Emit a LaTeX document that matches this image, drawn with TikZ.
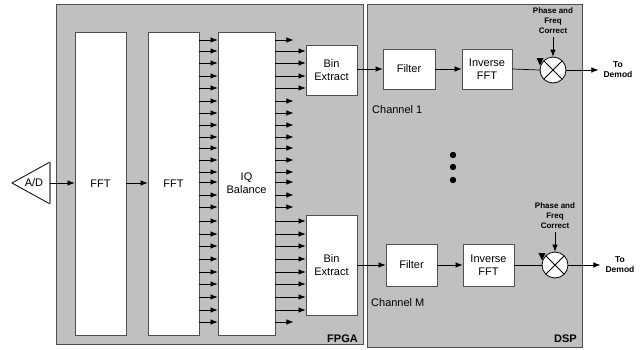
\documentclass[tikz,border=0pt]{standalone}
\usepackage{fontspec}
\setmainfont{Liberation Sans}
\usetikzlibrary{arrows.meta,calc}
\definecolor{panel}{RGB}{192,192,192}
\definecolor{edge}{RGB}{80,80,80}
\tikzset{
  panelbox/.style={draw=edge,fill=panel,line width=0.9pt},
  wbox/.style={draw=edge,fill=white,line width=0.8pt,inner sep=0pt,align=center,font=\fontsize{11}{13}\selectfont},
  arr/.style={-{Latex[length=7pt,width=5.5pt]},line width=0.7pt,black},
  small/.style={font=\fontsize{8}{10}\selectfont\bfseries,align=center,inner sep=0pt},
  lbl/.style={font=\fontsize{11}{13}\selectfont,inner sep=0pt},
  blbl/.style={font=\fontsize{11}{13}\selectfont\bfseries,inner sep=0pt},
  mult/.style={circle,draw=black,fill=white,line width=0.8pt,minimum size=26pt,inner sep=0pt,
    path picture={\draw[line width=0.8pt] (path picture bounding box.north west) -- (path picture bounding box.south east)
      (path picture bounding box.north east) -- (path picture bounding box.south west);}},
}
\begin{document}
\begin{tikzpicture}[x=1pt,y=-1pt]
\useasboundingbox (0,0) rectangle (641,349);
% panels
\node[panelbox,minimum width=307pt,minimum height=340pt,inner sep=0pt,anchor=north west] (fpga) at (56,4) {};
\node[panelbox,minimum width=215pt,minimum height=343pt,inner sep=0pt,anchor=north west] (dsp) at (367,4) {};
\node[blbl,anchor=south east] (fpgalbl) at (358,343) {FPGA};
\node[blbl,anchor=south east] (dsplbl) at (577,343) {DSP};
% A/D
\draw[line width=0.8pt,draw=black] (50,162) -- (12,183) -- (50,204);
\draw[line width=1.2pt,draw=gray] (50,162) -- (50,204);
\coordinate (adout) at (50,183);
\node[lbl] (ad) at (34,183) {A/D};
% big boxes
\node[wbox,minimum width=51pt,minimum height=303pt] (fft1) at (100.5,183.5) {FFT};
\node[wbox,minimum width=51pt,minimum height=303pt] (fft2) at (173.5,183.5) {FFT};
\node[wbox,minimum width=57pt,minimum height=303pt] (iq) at (246.5,183.5) {IQ\\Balance};
\draw[arr] (adout) -- (fft1.west |- adout);
\draw[arr] (fft1.east |- adout) -- (fft2.west |- adout);
% bin extract
\node[wbox,minimum width=51pt,minimum height=50pt] (bin1) at (331.5,70) {Bin\\Extract};
\node[wbox,minimum width=51pt,minimum height=100pt] (bin2) at (331.5,265) {Bin\\Extract};
% FFT2 -> IQ arrows
\foreach \y in {40,51,63,76,88,101,113,125,137,148,160,172,182,195,207,221,234,246,259,272,284,297,310,322}{
  \draw[arr] (fft2.east |- 0,\y) -- (iq.west |- 0,\y);
}
% IQ -> stubs
\foreach \y in {40,101,113,125,137,148,160,172,182,195,207,322}{
  \draw[arr] (iq.east |- 0,\y) -- ++(18,0);
}
\foreach \y in {51,63,76,88}{
  \draw[arr] (iq.east |- 0,\y) -- (bin1.west |- 0,\y);
}
\foreach \y in {221,234,246,259,272,284,297,310}{
  \draw[arr] (iq.east |- 0,\y) -- (bin2.west |- 0,\y);
}
% channel 1
\node[wbox,minimum width=52pt,minimum height=40pt] (filt1) at (409,69) {Filter};
\node[wbox,minimum width=50pt,minimum height=40pt] (ifft1) at (487,69) {Inverse\\FFT};
\node[mult] (m1) at (553,70) {};
\node[small] (ph1) at (553,21) {Phase and\\Freq\\Correct};
\node[small,font=\fontsize{8.5}{10}\selectfont\bfseries] (dm1) at (618,70) {To\\Demod};
\draw[arr] (bin1.east |- filt1) -- (filt1.west);
\draw[arr] (filt1.east) -- (ifft1.west);
\draw[line width=0.7pt] (ifft1.east) -- (m1.west);
\fill ($(m1.center)+(-16.5,-12)$) -- ++(7,0) -- ++(-3.5,7.5) -- cycle;
\draw[arr] (ph1.south) ++(0,3) -- (m1.north);
\draw[arr] (m1.east) -- ($(dm1.west)+(-5,0)$);
\node[lbl,anchor=west] (ch1) at (372,110) {Channel 1};
% dots
\fill (453,155) circle (3.2) (453,167) circle (3.2) (453,180) circle (3.2);
% channel M
\node[wbox,minimum width=51pt,minimum height=42pt] (filt2) at (411.5,265) {Filter};
\node[wbox,minimum width=51pt,minimum height=42pt] (ifft2) at (488.5,265) {Inverse\\FFT};
\node[mult] (m2) at (555,265) {};
\node[small] (ph2) at (555,216) {Phase and\\Freq\\Correct};
\node[small,font=\fontsize{8.5}{10}\selectfont\bfseries] (dm2) at (620,265) {To\\Demod};
\draw[arr] (bin2.east |- filt2) -- (filt2.west);
\draw[arr] (filt2.east) -- (ifft2.west);
\draw[line width=0.7pt] (ifft2.east) -- (m2.west);
\fill ($(m2.center)+(-16.5,-12)$) -- ++(7,0) -- ++(-3.5,7.5) -- cycle;
\draw[arr] (ph2.south) ++(0,3) -- (m2.north);
\draw[arr] (m2.east) -- ($(dm2.west)+(-5,0)$);
\node[lbl,anchor=west] (chm) at (371,303) {Channel M};
\end{tikzpicture}
\end{document}
